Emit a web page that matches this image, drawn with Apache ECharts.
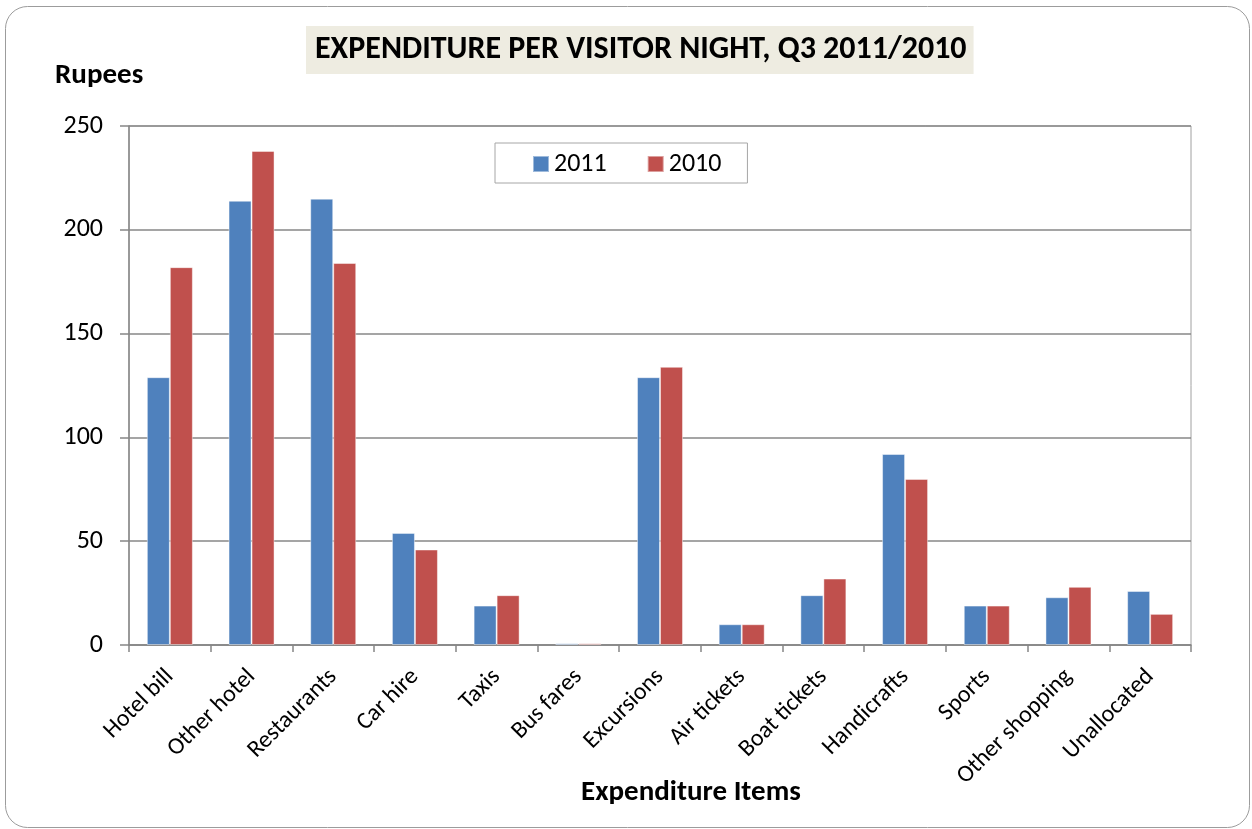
<!DOCTYPE html>
<html>
<head>
<meta charset="utf-8">
<script src="https://cdn.jsdelivr.net/npm/echarts@6/dist/echarts.min.js"></script>
<style>
  html, body { margin: 0; padding: 0; background: #ffffff; }
  #chart { width: 1252px; height: 829px; }
</style>
</head>
<body>
<div id="chart"></div>
<script>
// Expenditure per visitor night, Q3 2011 vs 2010 (Rupees)
const categories = [
  'Hotel bill', 'Other hotel', 'Restaurants', 'Car hire', 'Taxis', 'Bus fares',
  'Excursions', 'Air tickets', 'Boat tickets', 'Handicrafts', 'Sports',
  'Other shopping', 'Unallocated'
];
const values2011 = [129, 214, 215, 54, 19, 0.8, 129, 10, 24, 92, 19, 23, 26];
const values2010 = [182, 238, 184, 46, 24, 0.8, 134, 10, 32, 80, 19, 28, 15];
const yTicks = { min: 0, max: 250, interval: 50 };

const FONT = 'Carlito, Calibri, Lato, sans-serif';
const GRID_LINE = '#878787';

const chart = echarts.init(document.getElementById('chart'), null, { renderer: 'canvas' });

chart.setOption({
  backgroundColor: '#ffffff',
  animation: false,
  textStyle: { fontFamily: FONT, color: '#000000' },
  title: {
    text: 'EXPENDITURE PER VISITOR NIGHT, Q3 2011/2010',
    left: 306,
    top: 26,
    backgroundColor: '#EEECE1',
    padding: [8, 7, 8, 9],
    textStyle: { fontFamily: FONT, fontSize: 32, fontWeight: 'bold', color: '#000000' }
  },
  legend: {
    data: ['2011', '2010'],
    left: 495,
    top: 143,
    orient: 'horizontal',
    icon: 'rect',
    itemWidth: 16,
    itemHeight: 16,
    itemGap: 40,
    padding: [8, 26, 6, 37],
    borderColor: '#a6a6a6',
    borderWidth: 1,
    backgroundColor: '#ffffff',
    textStyle: { fontFamily: FONT, fontSize: 26, color: '#000000' }
  },
  grid: {
    left: 129,
    right: 61,
    top: 126,
    bottom: 184,
    show: true,
    borderColor: '#a0a0a0',
    borderWidth: 1,
    containLabel: false
  },
  xAxis: {
    type: 'category',
    data: categories,
    axisLine: { show: true, lineStyle: { color: GRID_LINE, width: 1.5 } },
    axisTick: { show: true, alignWithLabel: false, inside: false, length: 7, lineStyle: { color: GRID_LINE, width: 1.5 } },
    axisLabel: {
      interval: 0,
      rotate: 45,
      margin: 28,
      fontFamily: FONT,
      fontSize: 24,
      color: '#000000'
    },
    splitLine: { show: false }
  },
  yAxis: {
    type: 'value',
    min: yTicks.min,
    max: yTicks.max,
    interval: yTicks.interval,
    axisLine: { show: true, lineStyle: { color: GRID_LINE, width: 1.5 } },
    axisTick: { show: true, inside: false, length: 9, lineStyle: { color: GRID_LINE, width: 1.5 } },
    axisLabel: { margin: 26, fontFamily: FONT, fontSize: 26, color: '#000000' },
    splitLine: { show: true, lineStyle: { color: GRID_LINE, width: 1.5 } }
  },
  series: [
    {
      name: '2011',
      type: 'bar',
      data: values2011,
      barWidth: 23,
      barGap: '0%',
      itemStyle: { color: '#4F81BD', borderColor: 'rgba(255,255,255,0.45)', borderWidth: 1 }
    },
    {
      name: '2010',
      type: 'bar',
      data: values2010,
      barWidth: 23,
      barGap: '0%',
      itemStyle: { color: '#C0504D', borderColor: 'rgba(255,255,255,0.45)', borderWidth: 1 }
    }
  ],
  graphic: [
    {
      type: 'rect',
      silent: true,
      z: -10,
      shape: { x: 5.5, y: 6.5, width: 1244, height: 821, r: 22 },
      style: { fill: 'none', stroke: '#9c9c9c', lineWidth: 1 }
    },
    {
      type: 'text',
      left: 55,
      top: 61,
      style: { text: 'Rupees', font: 'bold 29px ' + FONT, fill: '#000000' }
    },
    {
      type: 'text',
      left: 581,
      top: 778,
      style: { text: 'Expenditure Items', font: 'bold 29px ' + FONT, fill: '#000000' }
    }
  ]
});
</script>
</body>
</html>
